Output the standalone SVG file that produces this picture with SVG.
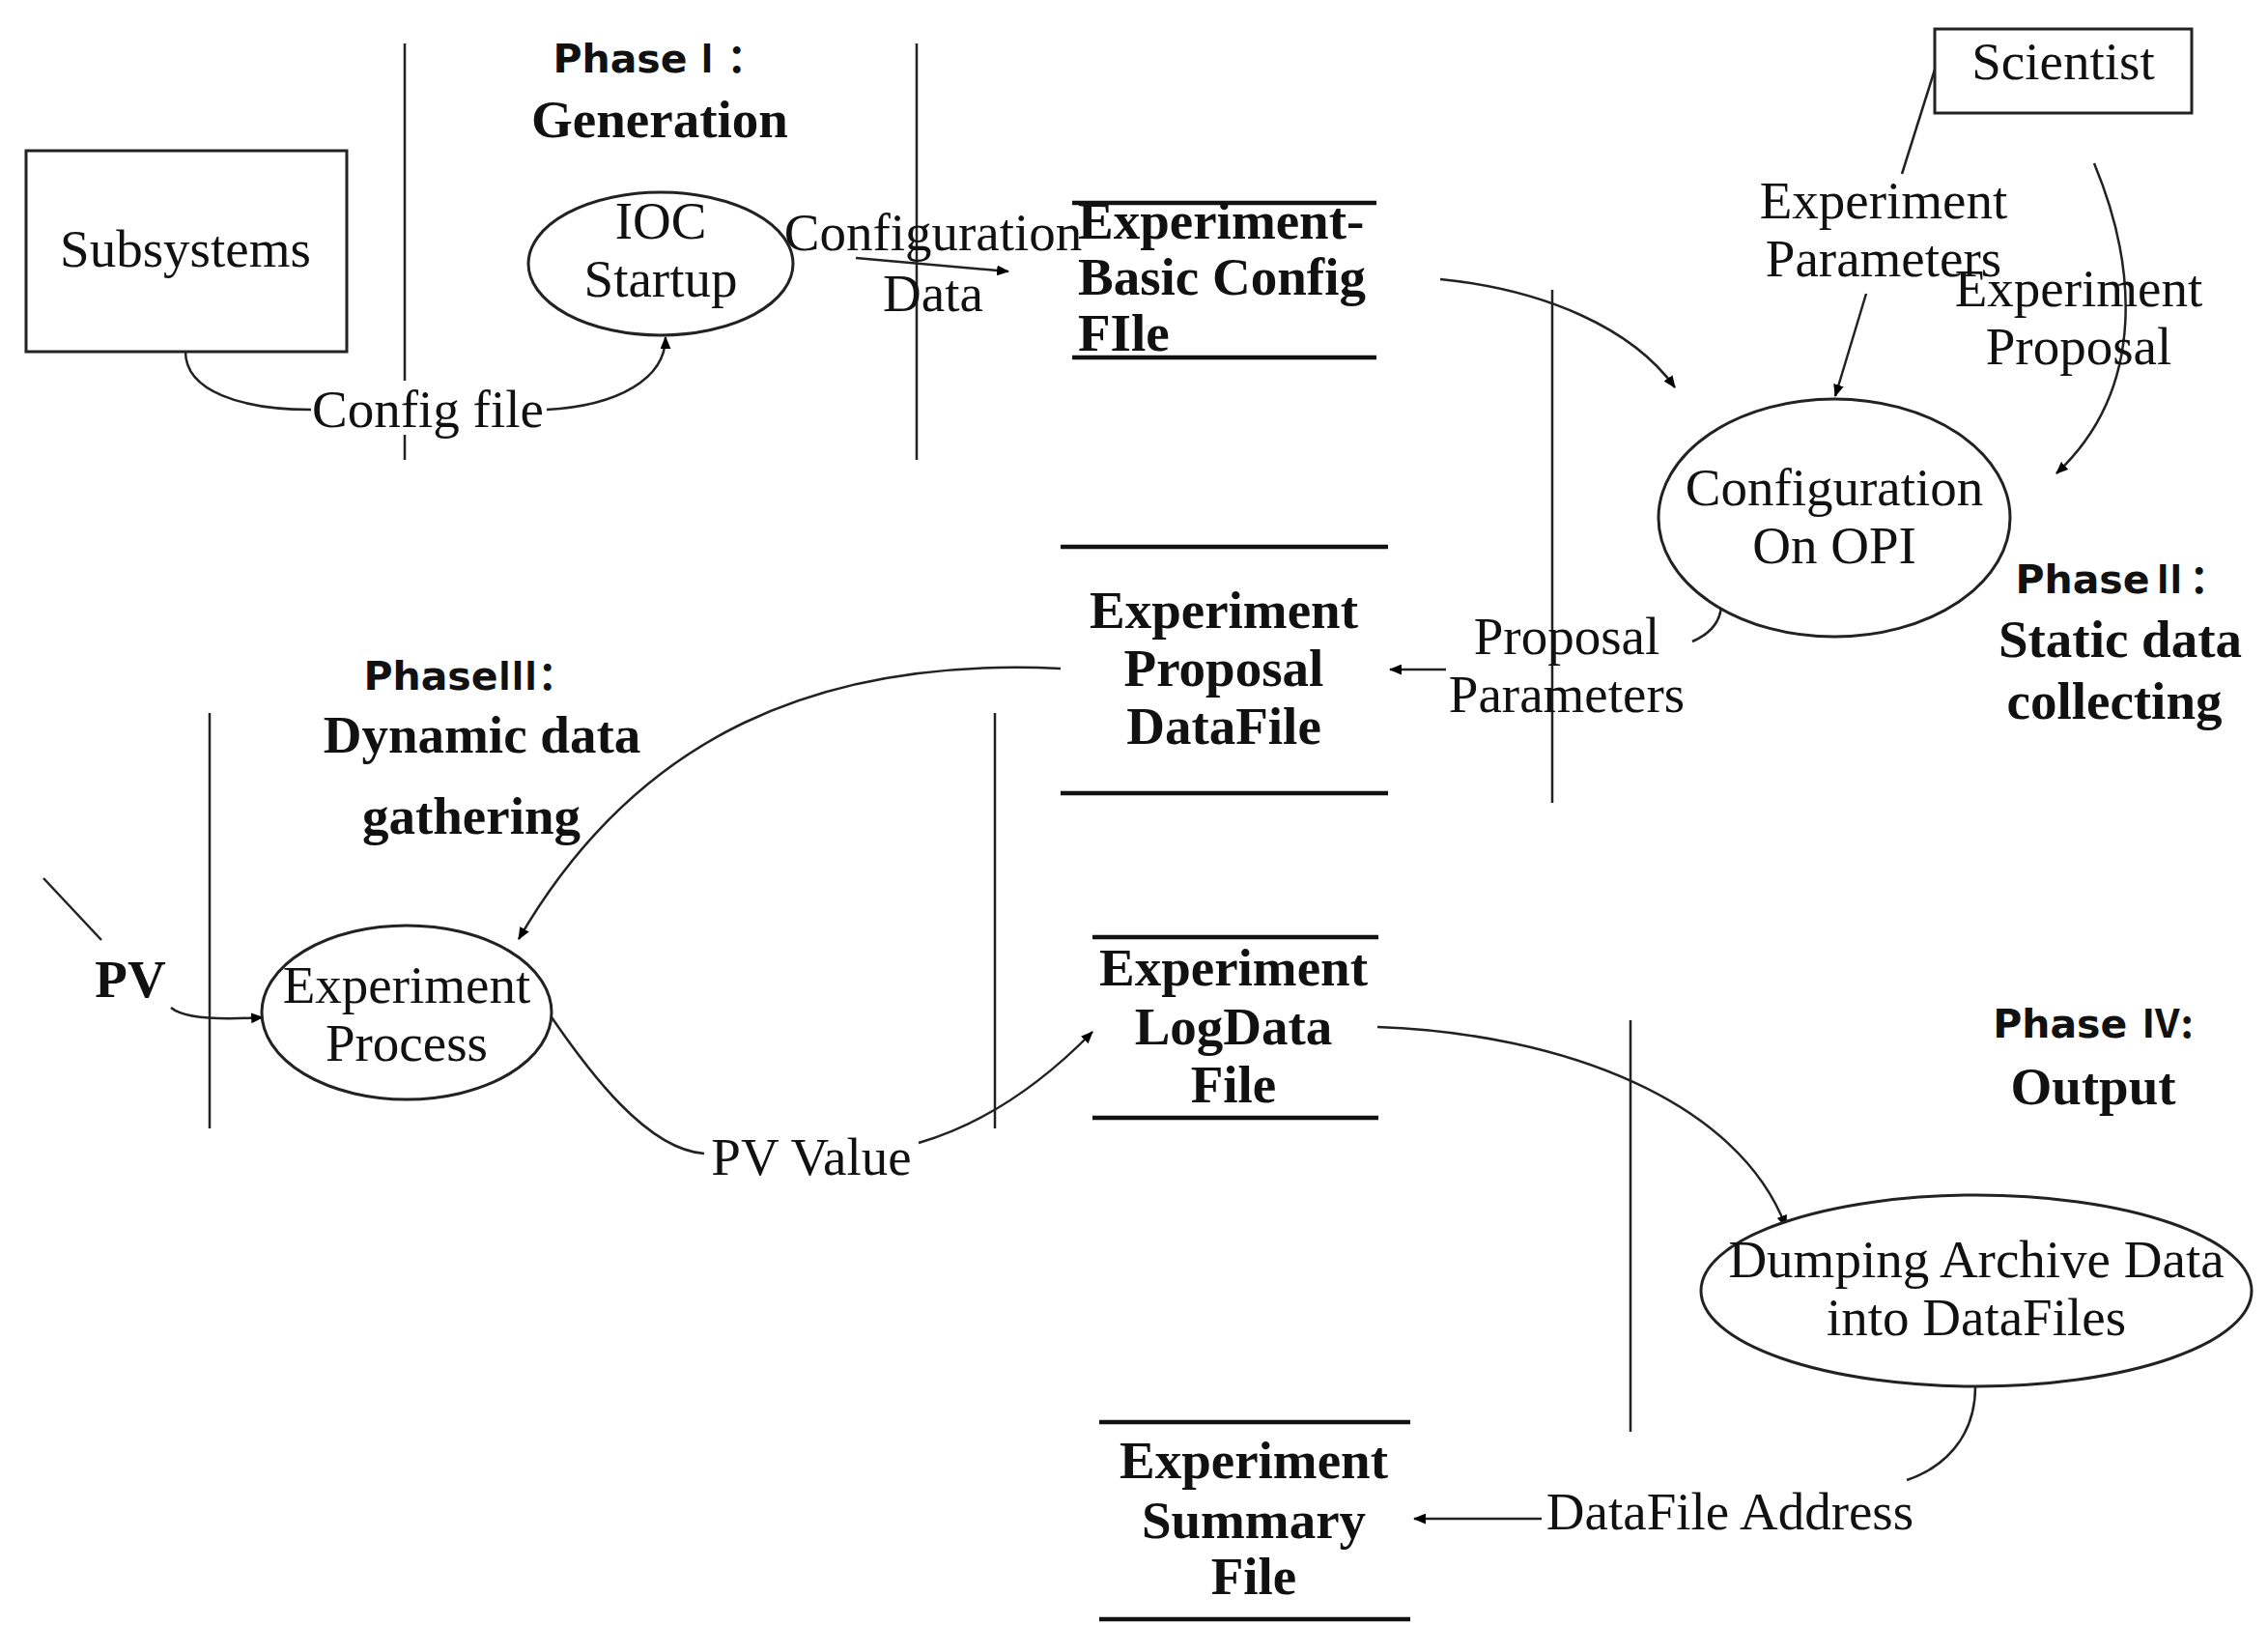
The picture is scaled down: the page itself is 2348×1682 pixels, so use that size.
<svg xmlns="http://www.w3.org/2000/svg" width="2348" height="1682" viewBox="0 0 2348 1682">
<defs>
<marker id="ah" viewBox="0 0 12 10" refX="11" refY="5" markerWidth="13" markerHeight="11" markerUnits="userSpaceOnUse" orient="auto">
<path d="M0,0 L12,5 L0,10 Z" fill="#000"/>
</marker>
<style>
.t{font-family:"Liberation Serif","Times New Roman",serif;font-size:55px;fill:#111;text-anchor:middle}
.b{font-family:"Liberation Serif","Times New Roman",serif;font-size:55px;font-weight:bold;fill:#111;text-anchor:middle}
.p{font-family:"DejaVu Sans","Noto Sans CJK SC",sans-serif;font-size:41px;font-weight:bold;fill:#111;text-anchor:middle}
.n{font-family:"Noto Sans CJK SC",sans-serif;font-weight:bold}
.sep{stroke:#222;stroke-width:2.5;fill:none}
.store{stroke:#111;stroke-width:4.5;fill:none}
.shape{stroke:#222;stroke-width:3;fill:#fff}
.c{stroke:#222;stroke-width:2.5;fill:none}
.ca{stroke:#222;stroke-width:2.5;fill:none;marker-end:url(#ah)}
</style>
</defs>
<rect width="2348" height="1682" fill="#fff"/>

<g id="separators">
<line class="sep" x1="419" y1="45" x2="419" y2="476"/>
<line class="sep" x1="949" y1="45" x2="949" y2="476"/>
<line class="sep" x1="1607" y1="300" x2="1607" y2="831"/>
<line class="sep" x1="217" y1="738" x2="217" y2="1168"/>
<line class="sep" x1="1030" y1="738" x2="1030" y2="1168"/>
<line class="sep" x1="1688" y1="1056" x2="1688" y2="1482"/>
</g>

<g id="connectors">
<path class="c" d="M192,364 C192,405 250,424 322,424"/>
<path class="ca" d="M566,424 C640,420 689,392 689,349"/>
<path class="ca" d="M886,267 L1044,281"/>
<path class="ca" d="M1491,289 C1600,300 1690,340 1734,401"/>
<path class="c" d="M2003,72 L1969,180"/>
<path class="ca" d="M1932,304 L1900,410"/>
<path class="ca" d="M2168,169 C2210,270 2225,400 2129,490"/>
<path class="c" d="M1782,621 Q1784,650 1752,664"/>
<path class="ca" d="M1497,693 L1439,693"/>
<path class="ca" d="M1098,692 C850,680 660,760 537,972"/>
<path class="c" d="M45,909 L105,973"/>
<path class="ca" d="M177,1043 Q195,1058 272,1053"/>
<path class="c" d="M569,1050 C610,1110 670,1190 729,1194"/>
<path class="ca" d="M951,1183 C1030,1160 1090,1110 1131,1068"/>
<path class="ca" d="M1426,1063 C1620,1070 1800,1140 1849,1270"/>
<path class="c" d="M2045,1435 C2045,1490 2010,1520 1974,1532"/>
<path class="ca" d="M1596,1572 L1464,1572"/>
</g>

<g id="phase1">
<text class="p" x="683" y="75">Phase<tspan class="n">Ⅰ：</tspan></text>
<text class="b" x="683" y="142">Generation</text>
</g>
<g id="phase2">
<text class="p" x="2197" y="614">Phase<tspan class="n">Ⅱ：</tspan></text>
<text class="b" x="2195" y="680">Static data</text>
<text class="b" x="2189" y="744">collecting</text>
</g>
<g id="phase3">
<text class="p" x="487" y="714">Phase<tspan class="n">Ⅲ：</tspan></text>
<text class="b" x="499" y="779">Dynamic data</text>
<text class="b" x="488" y="863">gathering</text>
</g>
<g id="phase4">
<text class="p" x="2167" y="1074">Phase <tspan class="n">Ⅳ:</tspan></text>
<text class="b" x="2167" y="1143">Output</text>
</g>

<g id="subsystems">
<rect class="shape" x="27" y="156" width="332" height="208"/>
<text class="t" x="192" y="276">Subsystems</text>
</g>

<g id="ioc-startup">
<ellipse class="shape" cx="684" cy="273" rx="137" ry="74"/>
<text class="t" x="684" y="247">IOC</text>
<text class="t" x="684" y="307">Startup</text>
</g>

<g id="basic-config-file">
<line class="store" x1="1110" y1="210" x2="1425" y2="210"/>
<line class="store" x1="1110" y1="370" x2="1425" y2="370"/>
<text class="b" x="1116" y="247" style="text-anchor:start">Experiment-</text>
<text class="b" x="1116" y="305" style="text-anchor:start">Basic Config</text>
<text class="b" x="1116" y="363" style="text-anchor:start">FIle</text>
</g>

<g id="scientist">
<rect class="shape" x="2003" y="30" width="266" height="87"/>
<text class="t" x="2136" y="82">Scientist</text>
</g>

<g id="configuration-opi">
<ellipse class="shape" cx="1899" cy="536" rx="182" ry="123"/>
<text class="t" x="1899" y="523">Configuration</text>
<text class="t" x="1899" y="583">On OPI</text>
</g>

<g id="proposal-datafile">
<line class="store" x1="1098" y1="566" x2="1437" y2="566"/>
<line class="store" x1="1098" y1="821" x2="1437" y2="821"/>
<text class="b" x="1267" y="650">Experiment</text>
<text class="b" x="1267" y="710">Proposal</text>
<text class="b" x="1267" y="770">DataFile</text>
</g>

<g id="experiment-process">
<ellipse class="shape" cx="421" cy="1048" rx="150" ry="90"/>
<text class="t" x="421" y="1038">Experiment</text>
<text class="t" x="421" y="1098">Process</text>
</g>

<g id="logdata-file">
<line class="store" x1="1131" y1="970" x2="1427" y2="970"/>
<line class="store" x1="1131" y1="1157" x2="1427" y2="1157"/>
<text class="b" x="1277" y="1020">Experiment</text>
<text class="b" x="1277" y="1081">LogData</text>
<text class="b" x="1277" y="1141">File</text>
</g>

<g id="dumping">
<ellipse class="shape" cx="2046" cy="1336" rx="285" ry="99"/>
<text class="t" x="2046" y="1322">Dumping Archive Data</text>
<text class="t" x="2046" y="1382">into DataFiles</text>
</g>

<g id="summary-file">
<line class="store" x1="1138" y1="1472" x2="1460" y2="1472"/>
<line class="store" x1="1138" y1="1676" x2="1460" y2="1676"/>
<text class="b" x="1298" y="1530">Experiment</text>
<text class="b" x="1298" y="1592">Summary</text>
<text class="b" x="1298" y="1650">File</text>
</g>

<g id="labels">
<rect x="324" y="394" width="240" height="56" fill="#fff"/>
<text class="t" x="443" y="442">Config file</text>
<text class="t" x="966" y="259">Configuration</text>
<text class="t" x="966" y="322">Data</text>
<text class="t" x="1950" y="226">Experiment</text>
<text class="t" x="1950" y="286">Parameters</text>
<text class="t" x="2152" y="317">Experiment</text>
<text class="t" x="2152" y="377">Proposal</text>
<text class="t" x="1622" y="677">Proposal</text>
<text class="t" x="1622" y="737">Parameters</text>
<text class="b" x="135" y="1032">PV</text>
<text class="t" x="840" y="1216">PV Value</text>
<text class="t" x="1791" y="1583">DataFile Address</text>
</g>
</svg>
